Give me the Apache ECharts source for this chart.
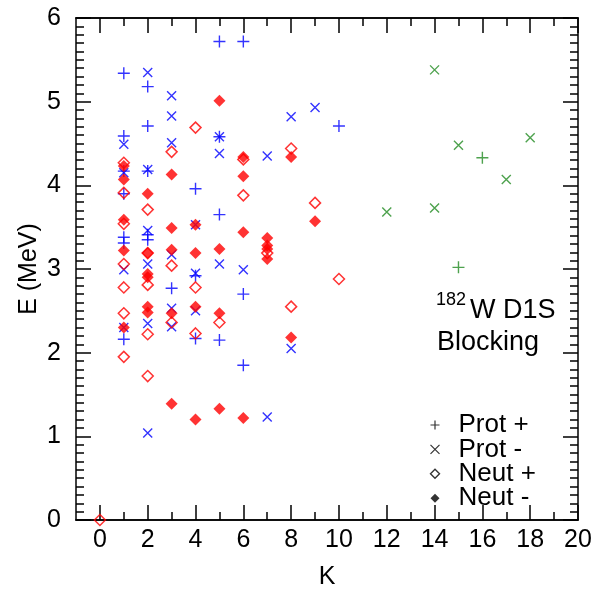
<!DOCTYPE html>
<html>
<head>
<meta charset="utf-8">
<script src="https://cdn.jsdelivr.net/npm/echarts@6/dist/echarts.min.js"></script>
<style>
  html, body { margin: 0; padding: 0; background: #fff; }
  #chart { width: 597px; height: 595px; }
</style>
</head>
<body>
<div id="chart"></div>
<script>
// Blocking calculation levels of 182W (D1S): [K, E in MeV]
const protPlus = [
  [1, 5.34], [1, 4.59], [1, 4.17], [1, 3.90], [1, 3.38], [1, 3.31], [1, 2.16],
  [2, 5.18], [2, 4.71], [2, 4.17], [2, 3.41], [2, 3.35],
  [3, 2.77],
  [4, 3.96], [4, 2.92], [4, 2.17],
  [5, 5.72], [5, 4.58], [5, 3.65], [5, 2.15],
  [6, 5.72], [6, 2.70], [6, 1.85],
  [10, 4.71]
];
const protMinus = [
  [1, 4.49], [1, 4.15], [1, 2.99], [1, 2.30],
  [2, 5.35], [2, 4.19], [2, 3.46], [2, 3.06], [2, 2.35], [2, 1.04],
  [3, 5.07], [3, 4.83], [3, 4.51], [3, 3.17], [3, 2.53], [3, 2.31],
  [4, 3.53], [4, 2.95], [4, 2.50],
  [5, 4.58], [5, 4.38], [5, 3.06],
  [6, 2.99],
  [7, 4.35], [7, 1.23],
  [8, 4.82], [8, 2.05],
  [9, 4.93]
];
const neutPlus = [
  [0, 0.00],
  [1, 4.27], [1, 3.91], [1, 3.54], [1, 3.06], [1, 2.78], [1, 2.47], [1, 1.95],
  [2, 3.71], [2, 3.19], [2, 2.81], [2, 2.22], [2, 1.72],
  [3, 4.40], [3, 3.04], [3, 2.36],
  [4, 4.69], [4, 2.78], [4, 2.23],
  [5, 2.36],
  [6, 4.31], [6, 3.88],
  [7, 3.19],
  [8, 4.44], [8, 2.55],
  [9, 3.79],
  [10, 2.88]
];
const neutMinus = [
  [1, 4.23], [1, 4.07], [1, 3.59], [1, 3.22], [1, 2.30],
  [2, 3.90], [2, 3.19], [2, 2.94], [2, 2.90], [2, 2.55], [2, 2.48],
  [3, 4.13], [3, 3.49], [3, 3.23], [3, 2.47], [3, 1.39],
  [4, 3.53], [4, 3.19], [4, 2.55], [4, 1.20],
  [5, 5.01], [5, 3.24], [5, 2.47], [5, 1.33],
  [6, 4.34], [6, 4.11], [6, 3.44], [6, 1.22],
  [7, 3.37], [7, 3.28], [7, 3.24], [7, 3.12],
  [8, 4.34], [8, 2.18],
  [9, 3.57]
];
// high-K proton states
const highKPlus = [[15, 3.02], [16, 4.33]];
const highKMinus = [[12, 3.68], [14, 5.38], [14, 3.73], [15, 4.48], [17, 4.07], [18, 4.57]];

const xLabels = [0, 2, 4, 6, 8, 10, 12, 14, 16, 18, 20];
const xMinor = [1, 3, 5, 7, 9, 11, 13, 15, 17, 19];

const BLUE = '#0000ff', RED = '#ff0000', GREEN = '#228b22';
const PLUS = 'path://M5,0L5,10M0,5L10,5';
const CROSS = 'path://M0,0L10,10M0,10L10,0';
const DIAMOND = 'path://M5,0L10,5L5,10L0,5Z';
const FONT = '"Liberation Sans", Arial, sans-serif';
const TICK_FS = 25;

function strokeSeries(name, data, symbol, size, colour) {
  return {
    name, type: 'scatter', data, symbol, symbolSize: size,
    itemStyle: { color: 'none', borderColor: colour, borderWidth: 1.4 },
    emphasis: { disabled: true }
  };
}

function xAx(position, values, len, labels) {
  return {
    type: 'value', min: -1, max: 20, position,
    axisLine: { show: true, onZero: false, lineStyle: { color: '#000', width: 1.5 } },
    axisTick: { show: true, inside: true, length: len, customValues: values, lineStyle: { color: '#000', width: 1.5 } },
    axisLabel: labels ? { show: true, customValues: xLabels, fontSize: TICK_FS, color: '#000', fontFamily: FONT, margin: 8 } : { show: false },
    splitLine: { show: false }
  };
}

function yAx(position, labels) {
  return {
    type: 'value', min: 0, max: 6, interval: 1, position,
    name: labels ? 'E (MeV)' : '', nameLocation: 'middle', nameGap: 34,
    nameMoveOverlap: false,
    nameTextStyle: { fontSize: TICK_FS, color: '#000', fontFamily: FONT },
    axisLine: { show: true, onZero: false, lineStyle: { color: '#000', width: 1.5 } },
    axisTick: { show: true, inside: true, length: 15, lineStyle: { color: '#000', width: 1.5 } },
    minorTick: { show: true, splitNumber: 10, length: 8, lineStyle: { color: '#000', width: 1.5 } },
    axisLabel: labels ? { show: true, fontSize: TICK_FS, color: '#000', fontFamily: FONT, margin: 15 } : { show: false },
    splitLine: { show: false }, minorSplitLine: { show: false }
  };
}

const chart = echarts.init(document.getElementById('chart'), null, { renderer: 'canvas' });
const xMain = xAx('bottom', xLabels, 15, true);
xMain.name = 'K';
xMain.nameLocation = 'middle';
xMain.nameGap = 45;
xMain.nameTextStyle = { fontSize: TICK_FS, color: '#000', fontFamily: FONT };

chart.setOption({
  animation: false,
  backgroundColor: '#fff',
  grid: { left: 76, right: 19, top: 18, bottom: 75, containLabel: false },
  xAxis: [
    xMain,
    xAx('bottom', xMinor, 8, false),
    xAx('top', xLabels, 15, false),
    xAx('top', xMinor, 8, false)
  ],
  yAxis: [yAx('left', true), yAx('right', false)],
  legend: {
    orient: 'vertical', left: 428, top: 412, padding: 0,
    itemWidth: 37, itemHeight: 9, itemGap: -1.6,
    selectedMode: false,
    textStyle: { fontSize: 26, color: '#000', fontFamily: FONT },
    data: [
      { name: 'Prot +', icon: PLUS, itemStyle: { color: 'none', borderColor: '#000', borderWidth: 1.2 } },
      { name: 'Prot -', icon: CROSS, itemStyle: { color: 'none', borderColor: '#000', borderWidth: 1.2 } },
      { name: 'Neut +', icon: DIAMOND, itemStyle: { color: 'none', borderColor: '#000', borderWidth: 1.4 } },
      { name: 'Neut -', icon: DIAMOND, itemStyle: { color: '#000', borderColor: '#000', borderWidth: 0 } }
    ]
  },
  graphic: [
    {
      type: 'text', left: 436, top: 291,
      style: { text: '182', fontSize: 18, fontFamily: FONT, fill: '#000' }
    },
    {
      type: 'text', left: 470, top: 297,
      style: { text: 'W D1S', fontSize: 27, fontFamily: FONT, fill: '#000' }
    },
    {
      type: 'text', left: 437, top: 329,
      style: { text: 'Blocking', fontSize: 27, fontFamily: FONT, fill: '#000' }
    }
  ],
  series: [
    strokeSeries('Prot +', protPlus, PLUS, 12, BLUE),
    strokeSeries('Prot -', protMinus, CROSS, 9, BLUE),
    {
      name: 'Neut +', type: 'scatter', data: neutPlus, symbol: DIAMOND, symbolSize: 11,
      itemStyle: { color: 'none', borderColor: RED, borderWidth: 1.5 },
      emphasis: { disabled: true }
    },
    {
      name: 'Neut -', type: 'scatter', data: neutMinus, symbol: DIAMOND, symbolSize: 12,
      itemStyle: { color: RED, borderColor: RED, borderWidth: 0 },
      emphasis: { disabled: true }
    },
    strokeSeries('Prot + (high K)', highKPlus, PLUS, 12, GREEN),
    strokeSeries('Prot - (high K)', highKMinus, CROSS, 9, GREEN)
  ]
});
</script>
</body>
</html>
